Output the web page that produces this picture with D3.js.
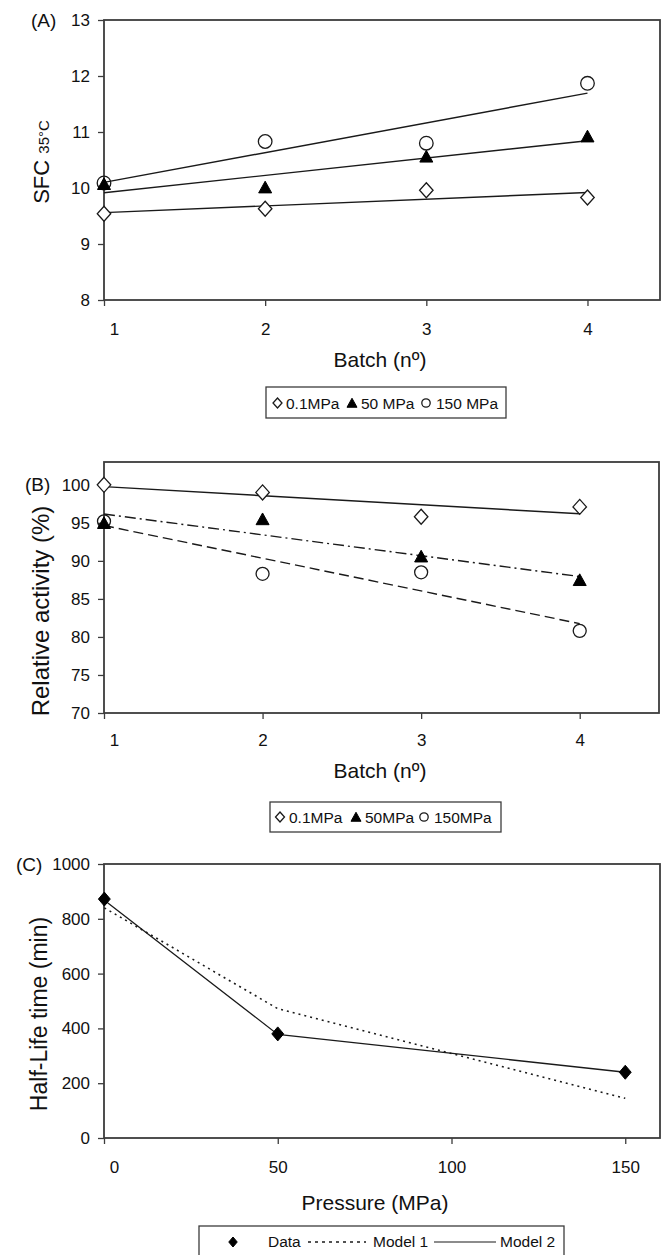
<!DOCTYPE html>
<html><head><meta charset="utf-8">
<script src="https://cdn.jsdelivr.net/npm/d3@7"></script>
<style>
html,body{margin:0;padding:0;background:#fff;}
svg{display:block;font-family:"Liberation Sans",Arial,Helvetica,sans-serif;}
</style></head>
<body>
<svg id="chart" width="664" height="1255"></svg>
<script>
// ---------- DATA ----------
const batches = [1, 2, 3, 4];
const sfc01 = [9.54, 9.63, 9.96, 9.83];
const sfc50 = [10.06, 10.0, 10.55, 10.91];
const sfc150 = [10.09, 10.83, 10.80, 11.87];
const sfcTicks = [8, 9, 10, 11, 12, 13];

const act01 = [100, 99.0, 95.8, 97.1];
const act50 = [94.9, 95.4, 90.5, 87.4];
const act150 = [95.2, 88.3, 88.5, 80.8];
const actTicks = [70, 75, 80, 85, 90, 95, 100];

const pressure = [0.1, 50, 150];
const halfLife = [872, 380, 240];
const model1 = [840, 472, 145];
const model2 = [868, 378, 240];
const pressTicks = [0, 50, 100, 150];
const halfTicks = [0, 200, 400, 600, 800, 1000];

// ---------- HELPERS ----------
const svg = d3.select("#chart");
const INK = "#1a1a1a", AX = "#3c3c3c";

function linfit(xs, ys) {
  const n = xs.length, mx = d3.mean(xs), my = d3.mean(ys);
  let sxy = 0, sxx = 0;
  for (let i = 0; i < n; i++) { sxy += (xs[i]-mx)*(ys[i]-my); sxx += (xs[i]-mx)**2; }
  const b = sxy / sxx, a = my - b*mx;
  return x => a + b*x;
}

function frame(g, x, y, xt, yt, xpad) {
  const [x0, x1] = x.range(), [y0, y1] = y.range();
  const ya = g.append("g").attr("transform", `translate(${x0},0)`)
    .call(d3.axisLeft(y).tickValues(yt).tickSize(6).tickPadding(8).tickFormat(d3.format("d")));
  const xa = g.append("g").attr("transform", `translate(0,${y0})`)
    .call(d3.axisBottom(x).tickValues(xt).tickSize(6).tickPadding(xpad).tickFormat(d3.format("d")));
  [ya, xa].forEach(a => {
    a.attr("font-size", 17).attr("font-family", "'Liberation Sans',Arial,sans-serif");
    a.select(".domain").remove();
    a.selectAll("line").attr("stroke", AX).attr("stroke-width", 1.3);
    a.selectAll("text").attr("font-size", 17).attr("fill", "#111");
  });
  xa.selectAll(".tick").filter((d, i) => i === 0).select("text").attr("dx", 10);
  g.append("rect").attr("x", x0).attr("y", y1).attr("width", x1 - x0).attr("height", y0 - y1)
    .attr("fill", "none").attr("stroke", AX).attr("stroke-width", 1.8);
}

function marker(g, type, cx, cy, s) {
  if (type === "diamond") {
    g.append("path").attr("d", `M${cx},${cy-s}L${cx+s*0.9},${cy}L${cx},${cy+s}L${cx-s*0.9},${cy}Z`)
      .attr("fill", "#fff").attr("stroke", INK).attr("stroke-width", 1.3);
  } else if (type === "fdiamond") {
    g.append("path").attr("d", `M${cx},${cy-s}L${cx+s*0.85},${cy}L${cx},${cy+s}L${cx-s*0.85},${cy}Z`)
      .attr("fill", "#000").attr("stroke", "#000").attr("stroke-width", 1);
  } else if (type === "triangle") {
    g.append("path").attr("d", `M${cx},${cy-s*1.05}L${cx+s},${cy+s*0.75}L${cx-s},${cy+s*0.75}Z`)
      .attr("fill", "#000").attr("stroke", "#000").attr("stroke-width", 1);
  } else {
    g.append("circle").attr("cx", cx).attr("cy", cy).attr("r", s)
      .attr("fill", "none").attr("stroke", INK).attr("stroke-width", 1.3);
  }
}

function trend(g, x, y, xs, ys, dash) {
  const f = linfit(xs, ys);
  const x0 = d3.min(xs), x1 = d3.max(xs);
  g.append("line").attr("x1", x(x0)).attr("y1", y(f(x0))).attr("x2", x(x1)).attr("y2", y(f(x1)))
    .attr("stroke", INK).attr("stroke-width", 1.4).attr("stroke-dasharray", dash || null);
}

function ytitle(g, cx, cy, parts) {
  const t = g.append("text").attr("transform", `translate(${cx},${cy}) rotate(-90)`)
    .attr("text-anchor", "middle").attr("fill", "#111");
  parts.forEach(p => t.append("tspan").attr("font-size", p[1]).text(p[0]));
}

function legendBox(g, x0, y0, w, h) {
  g.append("rect").attr("x", x0).attr("y", y0).attr("width", w).attr("height", h)
    .attr("fill", "#fff").attr("stroke", AX).attr("stroke-width", 1.3);
}
function ltext(g, x, y, s) {
  g.append("text").attr("x", x).attr("y", y).attr("font-size", 15.5).attr("fill", "#111").text(s);
}

// ---------- PANEL A ----------
{
  const g = svg.append("g");
  const x = d3.scaleLinear().domain([1, 4.45]).range([104, 660]);
  const y = d3.scaleLinear().domain([8, 13]).range([300, 20]);
  frame(g, x, y, batches, sfcTicks, 17);
  trend(g, x, y, batches, sfc01);
  trend(g, x, y, batches, sfc50);
  trend(g, x, y, batches, sfc150);
  batches.forEach((b, i) => marker(g, "diamond", x(b), y(sfc01[i]), 7.5));
  batches.forEach((b, i) => marker(g, "circle", x(b), y(sfc150[i]), 6.8));
  batches.forEach((b, i) => marker(g, "triangle", x(b), y(sfc50[i]), 6.5));
  g.append("text").attr("x", 31).attr("y", 27).attr("font-size", 19).attr("fill", "#111").text("(A)");
  ytitle(g, 49, 162, [["SFC ", 22], ["35°C", 15]]);
  g.append("text").attr("x", 380).attr("y", 367).attr("text-anchor", "middle")
    .attr("font-size", 21).attr("fill", "#111").text("Batch (nº)");
  legendBox(g, 266, 387, 240, 31);
  marker(g, "diamond", 277.5, 403, 5);
  ltext(g, 286, 408.5, "0.1MPa");
  marker(g, "triangle", 352, 403.5, 5);
  ltext(g, 361, 408.5, "50 MPa");
  marker(g, "circle", 426, 403, 4.2);
  ltext(g, 436, 408.5, "150 MPa");
}

// ---------- PANEL B ----------
{
  const g = svg.append("g");
  const x = d3.scaleLinear().domain([1, 4.5]).range([104, 659]);
  const y = d3.scaleLinear().domain([70, 103]).range([713, 462]);
  frame(g, x, y, batches, actTicks, 15);
  trend(g, x, y, batches, act01);
  trend(g, x, y, batches, act50, "11,4,2,4");
  trend(g, x, y, batches, act150, "10,5");
  batches.forEach((b, i) => marker(g, "diamond", x(b), y(act01[i]), 7.5));
  batches.forEach((b, i) => marker(g, "circle", x(b), y(act150[i]), 6.5));
  batches.forEach((b, i) => marker(g, "triangle", x(b), y(act50[i]), 6.5));
  g.append("text").attr("x", 25).attr("y", 491).attr("font-size", 19).attr("fill", "#111").text("(B)");
  ytitle(g, 49, 611, [["Relative activity (%)", 24]]);
  g.append("text").attr("x", 380).attr("y", 778).attr("text-anchor", "middle")
    .attr("font-size", 21).attr("fill", "#111").text("Batch (nº)");
  legendBox(g, 270, 802, 231, 30);
  marker(g, "diamond", 280, 817, 5);
  ltext(g, 289, 822.5, "0.1MPa");
  marker(g, "triangle", 356, 817.5, 5);
  ltext(g, 365, 822.5, "50MPa");
  marker(g, "circle", 424, 817, 4.2);
  ltext(g, 434, 822.5, "150MPa");
}

// ---------- PANEL C ----------
{
  const g = svg.append("g");
  const x = d3.scaleLinear().domain([0, 160]).range([104, 660]);
  const y = d3.scaleLinear().domain([0, 1000]).range([1138, 864]);
  frame(g, x, y, pressTicks, halfTicks, 17);
  const line = d3.line().x((d, i) => x(pressure[i])).y(d => y(d));
  g.append("path").attr("d", line(model1)).attr("fill", "none").attr("stroke", INK)
    .attr("stroke-width", 1.6).attr("stroke-dasharray", "2,4");
  g.append("path").attr("d", line(model2)).attr("fill", "none").attr("stroke", INK).attr("stroke-width", 1.3);
  pressure.forEach((p, i) => marker(g, "fdiamond", x(p), y(halfLife[i]), 7));
  g.append("text").attr("x", 16).attr("y", 871).attr("font-size", 19).attr("fill", "#111").text("(C)");
  ytitle(g, 47, 1014, [["Half-Life time (min)", 23]]);
  g.append("text").attr("x", 375).attr("y", 1210).attr("text-anchor", "middle")
    .attr("font-size", 21).attr("fill", "#111").text("Pressure (MPa)");
  legendBox(g, 199, 1226, 365, 40);
  marker(g, "fdiamond", 233, 1242, 5);
  ltext(g, 268, 1247, "Data");
  g.append("line").attr("x1", 308).attr("x2", 366).attr("y1", 1242).attr("y2", 1242)
    .attr("stroke", INK).attr("stroke-width", 1.3).attr("stroke-dasharray", "3,4");
  ltext(g, 373, 1247, "Model 1");
  g.append("line").attr("x1", 434).attr("x2", 496).attr("y1", 1242).attr("y2", 1242)
    .attr("stroke", INK).attr("stroke-width", 1.2);
  ltext(g, 500, 1247, "Model 2");
}
</script>
</body></html>
